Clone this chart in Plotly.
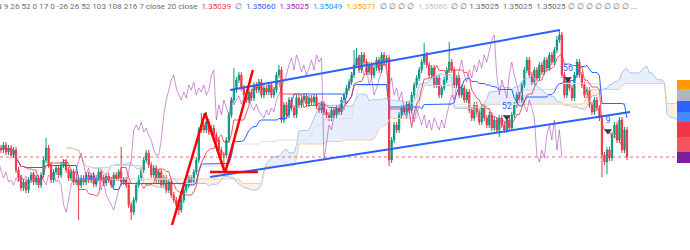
import plotly.graph_objects as go
import pandas as pd

# ---------------- data (price levels in points) ----------------
close = [100,105,98,102,95,100,80,72,62,68,
         60,70,75,68,72,65,75,90,102,85,
         70,78,82,75,85,88,80,72,78,68,
         70,65,72,68,75,70,74,66,72,78,
         72,67,74,70,65,75,72,78,68,70,
         65,45,38,50,65,72,80,90,97,85,
         75,82,70,78,65,72,60,68,55,50,
         45,40,50,60,65,72,68,78,90,120,
         125,120,128,118,122,115,110,100,95,95,
         110,135,150,160,170,175,162,155,150,158,
         152,165,160,168,155,162,158,165,155,160,
         175,180,130,145,135,150,142,135,152,145,
         150,154,146,152,148,153,144,140,146,138,
         135,132,140,135,142,138,150,155,162,168,
         175,185,192,180,195,188,178,185,175,182,
         190,180,195,188,192,90,110,125,120,135,
         142,138,146,140,155,165,172,180,188,195,
         185,175,182,165,172,155,162,170,180,188,
         180,165,172,155,162,150,158,140,132,145,
         138,128,142,132,125,135,122,130,120,132,
         125,120,130,122,135,145,155,150,165,180,
         190,175,168,180,172,185,178,190,182,195,
         188,200,210,215,175,155,170,162,152,175,
         188,175,165,155,160,145,138,150,142,132,
         95,88,100,92,115,125,110,130,100,120,93]
first_open = 102
wick = 3
high_extremes = {18:112, 48:103, 80:137, 82:138, 93:182, 111:185, 141:200,
                 142:202, 169:207, 179:208, 222:214, 223:220}
low_extremes = {31:30, 52:30, 70:36, 71:35, 89:78, 155:84, 199:113, 240:73, 242:76}

last_price = 93
displacement = 26

# drawings: (bar, level) anchors
upper_channel_bar = [91.5, 223.2]
upper_channel_lvl = [160, 220]
lower_channel_bar = [83.5, 251.2]
lower_channel_lvl = [73, 138]
zigzag_bar = [68.3, 81.5, 89.5, 100.6]
zigzag_lvl = [25, 137, 77, 180]
hline_bar = [83.5, 102.6]
hline_lvl = [78, 78]

signal_bar = [202, 226.4, 242.4]
signal_lvl = [133, 171, 119]
signal_txt = ["52", "56", "9"]

header_parts = [
    ("N 9 26 52 0 17 0 -26 26 52 103 108 216 7 close 20 close", "#6A6D78"),
    ("1.35039", "#F23645"), ("\u2205", "#6A6D78"), ("1.35060", "#2962FF"),
    ("1.35025", "#9C27B0"), ("1.35049", "#2196F3"), ("1.35071", "#FF9800"),
    ("\u2205 \u2205 \u2205 \u2205", "#6A6D78"), ("1.35060", "#C3C5CC"),
    ("\u2205 \u2205 1.35025  1.35025  1.35025 \u2205 \u2205 \u2205 \u2205 \u2205 \u2205 \u2205 ...", "#6A6D78"),
]
tag_colors = ["#FF9800", "#B2B5BE", "#2962FF", "#448AFF", "#F23645", "#F7525F", "#7B1FA2"]
tag_levels = [170, 161, 149, 138, 128, 113, 98, 87]

# ---------------- derived OHLC ----------------
n = len(close)
idx = list(range(n))
opn = [first_open] + close[:-1]
high = [high_extremes.get(i, max(opn[i], close[i]) + wick) for i in idx]
low = [low_extremes.get(i, min(opn[i], close[i]) - wick) for i in idx]

H = pd.Series(high, dtype=float)
L = pd.Series(low, dtype=float)


def mid(p):
    return ((H.rolling(p, min_periods=1).max() + L.rolling(p, min_periods=1).min()) / 2).tolist()


tenkan = mid(9)
kijun = mid(26)
spanA = [(a + b) / 2 for a, b in zip(tenkan, kijun)]
spanB = mid(52)
gray_line = mid(52)
cloud_x = [i + displacement for i in idx]

Y0, Y1 = 0, 250
X0, X1 = -0.4, 269.97

fig = go.Figure()

# cloud fills
def cloud_polys(xs, a, b):
    runs = []
    sign = a[0] >= b[0]
    cur = [(xs[0], a[0], b[0])]
    for i in range(1, len(xs)):
        s = a[i] >= b[i]
        if s != sign:
            d0 = a[i-1] - b[i-1]
            d1 = a[i] - b[i]
            t = d0 / (d0 - d1)
            xc = xs[i-1] + t * (xs[i] - xs[i-1])
            yc = a[i-1] + t * (a[i] - a[i-1])
            cur.append((xc, yc, yc))
            runs.append((sign, cur))
            cur = [(xc, yc, yc)]
            sign = s
        cur.append((xs[i], a[i], b[i]))
    runs.append((sign, cur))
    out = {True: ([], []), False: ([], [])}
    for s, pts in runs:
        px = [p[0] for p in pts] + [p[0] for p in reversed(pts)]
        py = [p[1] for p in pts] + [p[2] for p in reversed(pts)]
        out[s][0].extend(px + [None])
        out[s][1].extend(py + [None])
    return out

polys = cloud_polys(cloud_x, spanA, spanB)
fig.add_trace(go.Scatter(x=polys[True][0], y=polys[True][1], fill="toself", mode="none",
                         fillcolor="rgba(66,133,244,0.13)", hoverinfo="skip"))
fig.add_trace(go.Scatter(x=polys[False][0], y=polys[False][1], fill="toself", mode="none",
                         fillcolor="rgba(245,124,0,0.12)", hoverinfo="skip"))
fig.add_trace(go.Scatter(x=cloud_x, y=spanA, mode="lines", line=dict(color="#A9C4F2", width=1)))
fig.add_trace(go.Scatter(x=cloud_x, y=spanB, mode="lines", line=dict(color="#F7CBA8", width=1)))
fig.add_trace(go.Scatter(x=idx, y=gray_line, mode="lines", line=dict(color="#DCDEE2", width=1)))

# current price line
fig.add_trace(go.Scatter(x=[X0, X1], y=[last_price, last_price], mode="lines",
                         line=dict(color="rgba(242,54,69,0.75)", width=1, dash="dot")))

# chikou
fig.add_trace(go.Scatter(x=[i - displacement for i in idx], y=close, mode="lines",
                         line=dict(color="rgba(156,39,176,0.5)", width=1)))

# candles
fig.add_trace(go.Candlestick(x=idx, open=opn, high=high, low=low, close=close,
                             increasing=dict(line=dict(color="#089981", width=1), fillcolor="#089981"),
                             decreasing=dict(line=dict(color="#F23645", width=1), fillcolor="#F23645"),
                             whiskerwidth=0, hoverinfo="skip"))

fig.add_trace(go.Scatter(x=idx, y=kijun, mode="lines", line=dict(color="#2962FF", width=1)))
fig.add_trace(go.Scatter(x=idx, y=tenkan, mode="lines", line=dict(color="rgba(242,54,69,0.85)", width=1)))

# drawings
fig.add_trace(go.Scatter(x=upper_channel_bar, y=upper_channel_lvl, mode="lines",
                         line=dict(color="#2962FF", width=2)))
fig.add_trace(go.Scatter(x=lower_channel_bar, y=lower_channel_lvl, mode="lines",
                         line=dict(color="#2962FF", width=2)))
fig.add_trace(go.Scatter(x=hline_bar, y=hline_lvl, mode="lines",
                         line=dict(color="#FF0000", width=2.5)))
fig.add_trace(go.Scatter(x=zigzag_bar, y=zigzag_lvl, mode="lines",
                         line=dict(color="#FF0000", width=2.5)))

# signals
fig.add_trace(go.Scatter(x=signal_bar, y=signal_lvl, mode="markers+text", text=signal_txt,
                         textposition="top center",
                         textfont=dict(color="#2962FF", size=9, family="Roboto"),
                         marker=dict(symbol="triangle-down", size=7, color="#363A45")))

# header text
header = "  ".join(f'<span style="color:{c}">{t}</span>' for t, c in header_parts)
annotations = [dict(xref="paper", yref="paper", x=0, y=1, xanchor="left", yanchor="top",
                    xshift=-6, yshift=1, showarrow=False, align="left", text=header,
                    font=dict(size=8.1, family="Roboto", color="#6A6D78"))]

# right-side price tags
shapes = []
for c, top, bot in zip(tag_colors, tag_levels[:-1], tag_levels[1:]):
    shapes.append(dict(type="rect", xref="paper", yref="paper", x0=1.0, x1=1.03,
                       y0=(bot - Y0) / (Y1 - Y0), y1=(top - Y0) / (Y1 - Y0),
                       fillcolor=c, line=dict(width=0), layer="above"))

fig.update_layout(
    width=690, height=250, margin=dict(l=0, r=13, t=0, b=0),
    paper_bgcolor="white", plot_bgcolor="white", showlegend=False,
    xaxis=dict(range=[X0, X1], visible=False, rangeslider=dict(visible=False), fixedrange=True),
    yaxis=dict(range=[Y0, Y1], visible=False, fixedrange=True),
    annotations=annotations, shapes=shapes,
)

fig.write_html("out.html")
